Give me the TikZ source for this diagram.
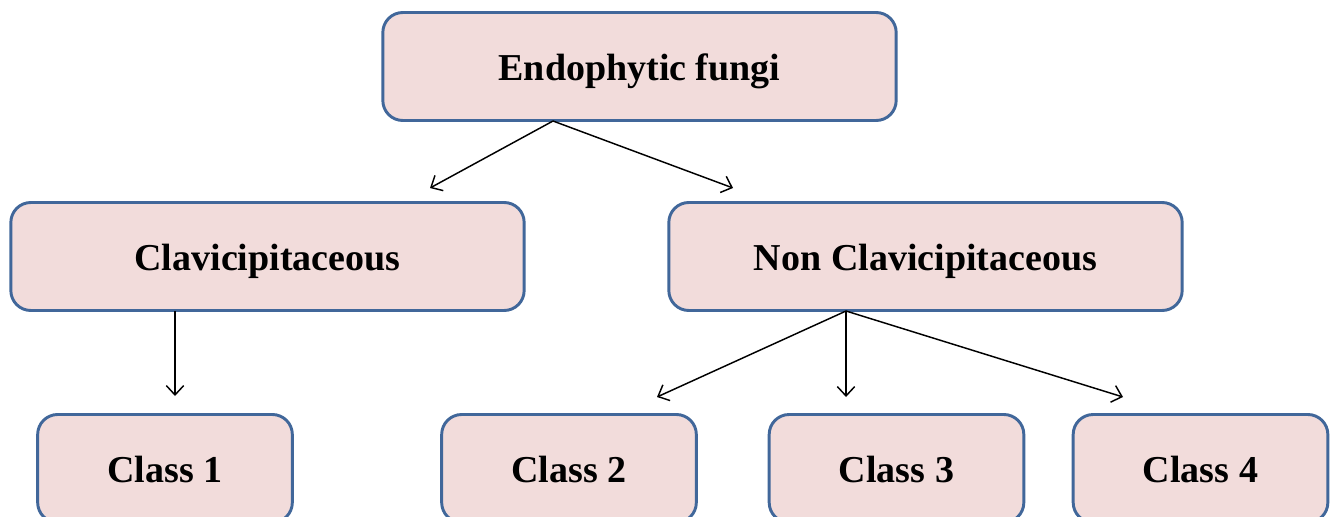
\documentclass[tikz,border=0pt]{standalone}
\usepackage{fontspec}
\setmainfont{Liberation Serif}
\usepackage{tikz}
\usetikzlibrary{positioning,calc,arrows.meta}
\definecolor{boxfill}{HTML}{F2DCDB}
\definecolor{boxline}{HTML}{41679A}

\tikzset{
    fungbox/.style={draw=boxline, fill=boxfill, line width=2.2pt,
        rounded corners=15pt, minimum height=81pt,
        text height=27pt, text depth=6pt,
        font=\fontsize{28.5}{31}\selectfont\bfseries},
    wide/.style={minimum width=385pt},
    narrow/.style={minimum width=191pt},
    branch/.style={-{Straight Barb[length=7pt,width=13pt]}, line width=1.1pt}
}

\begin{document}
\begin{tikzpicture}[x=0.75pt, y=-0.75pt]
    \useasboundingbox (0,0) rectangle (1330,517);

    % Root
    \node[fungbox, wide] (root) at (639.5, 66.5) {Endophytic fungi};

    % Groups
    \node[fungbox, wide] (clav) at (267.5, 256.5) {Clavicipitaceous};
    \node[fungbox, wide] (nonclav) at (925.5, 256.5) {Non Clavicipitaceous};

    % Classes
    \node[fungbox, narrow] (c1) at (165, 468.5) {Class 1};
    \node[fungbox, narrow] (c2) at (569, 468.5) {Class 2};
    \node[fungbox, narrow] (c3) at (896.5, 468.5) {Class 3};
    \node[fungbox, narrow] (c4) at (1200.5, 468.5) {Class 4};

    % Arrow ends
    \coordinate (rootout) at (553, 121);
    \coordinate (clavin) at (430, 188);
    \coordinate (nonclavin) at (733, 188);
    \coordinate (clavout) at (175, 311);
    \coordinate (c1in) at (175, 396);
    \coordinate (nonclavout) at (846, 311);
    \coordinate (c2in) at (657, 397);
    \coordinate (c3in) at (846, 397);
    \coordinate (c4in) at (1123, 397);

    % Arrows
    \draw[branch] (rootout) -- (clavin);
    \draw[branch] (rootout) -- (nonclavin);
    \draw[branch] (clavout) -- (c1in);
    \draw[branch] (nonclavout) -- (c2in);
    \draw[branch] (nonclavout) -- (c3in);
    \draw[branch] (nonclavout) -- (c4in);
\end{tikzpicture}
\end{document}
